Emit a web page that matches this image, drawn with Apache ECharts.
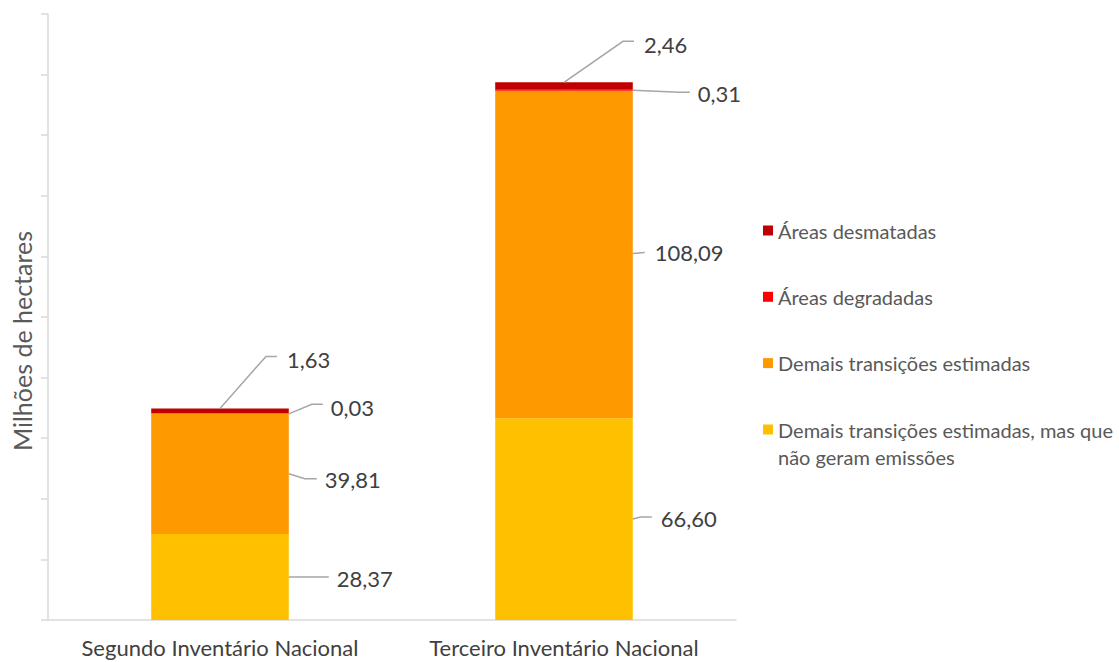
<!DOCTYPE html>
<html>
<head>
<meta charset="utf-8">
<script src="https://cdn.jsdelivr.net/npm/echarts@6/dist/echarts.min.js"></script>
<style>
  html, body { margin: 0; padding: 0; background: #ffffff; }
  #chart { width: 1119px; height: 662px; }
</style>
</head>
<body>
<div id="chart"></div>
<script>
// Land-use transition areas, million hectares
const categories = ['Segundo Inventário Nacional', 'Terceiro Inventário Nacional'];
const semEmissoes = [28.37, 66.60];        // Demais transições estimadas, mas que não geram emissões
const demaisTransicoes = [39.81, 108.09];  // Demais transições estimadas
const degradadas = [0.03, 0.31];           // Áreas degradadas
const desmatadas = [1.63, 2.46];           // Áreas desmatadas
const yMin = 0, yMax = 200, yStep = 20;

const NAME_SEM = 'Demais transições estimadas, mas que não geram emissões';
const NAME_DEMAIS = 'Demais transições estimadas';
const NAME_DEGR = 'Áreas degradadas';
const NAME_DESM = 'Áreas desmatadas';

// stacked bottom to top
const stackOrder = [
  { name: NAME_SEM, values: semEmissoes, color: '#FFC000' },
  { name: NAME_DEMAIS, values: demaisTransicoes, color: '#FF9900' },
  { name: NAME_DEGR, values: degradadas, color: '#FF0000' },
  { name: NAME_DESM, values: desmatadas, color: '#C00000' }
];

const FONT = 'Lato, "Liberation Sans", sans-serif';
const BAR_RATIO = 0.4;

// leader lines: anchor on bar side (segment middle) or on the top centre,
// polyline offsets and text offset in pixels, per stack level and category
const leaderLayout = [
  [ { from: 'side', line: [[0, 0], [40, 0]], text: [48, 1.5] },
    { from: 'side', line: [[0, 0], [8, -2], [19, -2]], text: [28, -1] } ],
  [ { from: 'side', line: [[0, 0], [16, 5], [28, 5]], text: [36, 6] },
    { from: 'side', line: [[0, -1], [12, -2]], text: [22, -2] } ],
  [ { from: 'side', line: [[0, 0.5], [23, -9], [34, -9]], text: [42, -6] },
    { from: 'side', line: [[0, 0], [47, 2], [57, 2]], text: [65, 3] } ],
  [ { from: 'top', line: [[0, 0], [46, -52], [57, -52]], text: [67, -49] },
    { from: 'top', line: [[0, 0], [59, -41], [70, -41]], text: [80, -38] } ]
];

const fmt = v => v.toFixed(2).replace('.', ',');

// label data: [category index, stack base, value, stack level]
const labelData = [];
categories.forEach((c, ci) => {
  let base = 0;
  stackOrder.forEach((s, si) => {
    labelData.push([ci, base, s.values[ci], si]);
    base += s.values[ci];
  });
});

function renderLeader(params, api) {
  const ci = api.value(0), base = api.value(1), val = api.value(2), si = api.value(3);
  const cfg = leaderLayout[si][ci];
  const barW = api.size([1, 0])[0] * BAR_RATIO;
  let ax, ay;
  if (cfg.from === 'top') {
    const p = api.coord([ci, base + val]);
    ax = p[0]; ay = p[1];
  } else {
    const p = api.coord([ci, base + val / 2]);
    ax = p[0] + barW / 2; ay = p[1];
  }
  return {
    type: 'group',
    children: [
      { type: 'polyline',
        shape: { points: cfg.line.map(d => [ax + d[0], ay + d[1]]) },
        style: { stroke: '#A6A6A6', lineWidth: 1.5, fill: null } },
      { type: 'text', x: ax + cfg.text[0], y: ay + cfg.text[1],
        style: { text: fmt(val), fill: '#404040', font: '22px ' + FONT,
                 align: 'left', verticalAlign: 'middle' } }
    ]
  };
}

const barSeries = stackOrder.map(s => ({
  name: s.name,
  type: 'bar',
  stack: 'total',
  barWidth: (BAR_RATIO * 100) + '%',
  itemStyle: { color: s.color },
  data: s.values,
  silent: true
}));

const legendText = { fontFamily: FONT, fontSize: 20, color: '#595959', lineHeight: 24 };

const chart = echarts.init(document.getElementById('chart'), null, { renderer: 'svg' });
chart.setOption({
  animation: false,
  backgroundColor: '#ffffff',
  grid: { left: 48, top: 14, width: 688, height: 606 },
  legend: [
    { orient: 'vertical', left: 763, top: 218.5, padding: 0,
      icon: 'rect', itemWidth: 10, itemHeight: 10, itemGap: 42.3,
      selectedMode: false,
      data: [NAME_DESM, NAME_DEGR, NAME_DEMAIS],
      textStyle: legendText },
    // two-line entry: a blank first row keeps the marker beside the first text row
    { orient: 'vertical', left: 763, top: 389, padding: 0,
      icon: 'rect', itemWidth: 10, itemHeight: 10,
      selectedMode: false,
      data: [NAME_SEM],
      formatter: () => ' \nDemais transições estimadas, mas que\nnão geram emissões',
      textStyle: Object.assign({}, legendText, { lineHeight: 27 }) }
  ],
  xAxis: {
    type: 'category',
    data: categories,
    axisTick: { show: false },
    axisLine: { lineStyle: { color: '#D9D9D9', width: 1.5 } },
    axisLabel: { interval: 0, fontFamily: FONT, fontSize: 22, color: '#404040', margin: 16 }
  },
  yAxis: {
    type: 'value',
    min: yMin, max: yMax, interval: yStep,
    name: 'Milhões de hectares',
    nameLocation: 'middle',
    nameGap: 14,
    nameTextStyle: { fontFamily: FONT, fontSize: 25, color: '#595959', padding: [0, 48, 0, 0] },
    axisLabel: { show: false },
    axisTick: { show: true, length: 7, lineStyle: { color: '#D9D9D9', width: 1.5 } },
    axisLine: { show: true, lineStyle: { color: '#D9D9D9', width: 1.5 } },
    splitLine: { show: false }
  },
  series: barSeries.concat([{
    type: 'custom',
    name: 'rótulos',
    renderItem: renderLeader,
    data: labelData,
    encode: { x: 0, y: 1 },
    silent: true,
    z: 5
  }])
});
</script>
</body>
</html>
